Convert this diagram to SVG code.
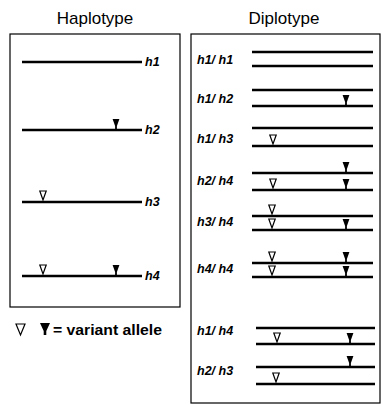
<svg xmlns="http://www.w3.org/2000/svg" width="382" height="405" viewBox="0 0 382 405">
<defs>
<style>
.box{fill:none;stroke:#000;stroke-width:1.2}
.ln{stroke:#000;stroke-width:2.3;fill:none}
.t{font-family:"Liberation Sans",Arial,sans-serif;font-size:17px;fill:#000}
.lb{font-family:"Liberation Sans",Arial,sans-serif;font-size:12.5px;font-weight:bold;font-style:italic;fill:#000}
.lg{font-family:"Liberation Sans",Arial,sans-serif;font-size:14px;font-weight:bold;fill:#000}
</style>
<path id="op" d="M-3.2,-10 L3.2,-10 L0,-1 Z" fill="#fff" stroke="#000" stroke-width="1.2"/>
<path id="fi" d="M-3.4,-10 L3.4,-10 L0.9,-3 L0.9,0 L-0.9,0 L-0.9,-3 Z" fill="#000"/>
</defs>
<rect width="382" height="405" fill="#fff"/>
<text class="t" x="95" y="24" text-anchor="middle">Haplotype</text>
<text class="t" x="284" y="24" text-anchor="middle">Diplotype</text>
<rect class="box" x="10" y="34" width="170" height="273"/>
<rect class="box" x="191" y="34" width="189" height="369"/>
<g id="haplotypes">
<g id="h1"><line class="ln" x1="22" y1="62" x2="142" y2="62"/><text class="lb" x="145" y="66">h1</text></g>
<g id="h2"><line class="ln" x1="22" y1="130" x2="142" y2="130"/><use href="#fi" x="116" y="129"/><text class="lb" x="145" y="134">h2</text></g>
<g id="h3"><line class="ln" x1="22" y1="202" x2="142" y2="202"/><use href="#op" x="43" y="201"/><text class="lb" x="145" y="206">h3</text></g>
<g id="h4"><line class="ln" x1="22" y1="276" x2="142" y2="276"/><use href="#op" x="43" y="275"/><use href="#fi" x="116" y="275"/><text class="lb" x="145" y="280">h4</text></g>
</g>
<g id="legend">
<path d="M16,324 L25,324 L20.5,335 Z" fill="#fff" stroke="#000" stroke-width="1.2"/>
<path d="M40,323 L50,323 L46.3,331 L46.3,335 L43.7,335 L43.7,331 Z" fill="#000"/>
<text class="lg" x="53" y="335" textLength="109" lengthAdjust="spacingAndGlyphs">= variant allele</text>
</g>
<g id="diplotypes">
<g id="d-h1h1"><text class="lb" x="197" y="64">h1/ h1</text><line class="ln" x1="252" y1="52" x2="373" y2="52"/><line class="ln" x1="252" y1="66" x2="373" y2="66"/></g>
<g id="d-h1h2"><text class="lb" x="197" y="103">h1/ h2</text><line class="ln" x1="252" y1="90" x2="373" y2="90"/><line class="ln" x1="252" y1="106" x2="373" y2="106"/><use href="#fi" x="346" y="105"/></g>
<g id="d-h1h3"><text class="lb" x="197" y="143">h1/ h3</text><line class="ln" x1="252" y1="128" x2="373" y2="128"/><line class="ln" x1="252" y1="146" x2="373" y2="146"/><use href="#op" x="273" y="145"/></g>
<g id="d-h2h4"><text class="lb" x="197" y="185">h2/ h4</text><line class="ln" x1="252" y1="173" x2="373" y2="173"/><use href="#fi" x="346" y="172"/><line class="ln" x1="252" y1="190" x2="373" y2="190"/><use href="#op" x="273" y="189"/><use href="#fi" x="346" y="189"/></g>
<g id="d-h3h4"><text class="lb" x="197" y="226">h3/ h4</text><line class="ln" x1="252" y1="216" x2="373" y2="216"/><use href="#op" x="272" y="215"/><line class="ln" x1="252" y1="230" x2="373" y2="230"/><use href="#op" x="272" y="229"/><use href="#fi" x="346" y="229"/></g>
<g id="d-h4h4"><text class="lb" x="197" y="273">h4/ h4</text><line class="ln" x1="252" y1="263" x2="373" y2="263"/><use href="#op" x="272" y="262"/><use href="#fi" x="346" y="262"/><line class="ln" x1="252" y1="277" x2="373" y2="277"/><use href="#op" x="272" y="276"/><use href="#fi" x="346" y="276"/></g>
<g id="d-h1h4"><text class="lb" x="197" y="335">h1/ h4</text><line class="ln" x1="256" y1="328" x2="375" y2="328"/><line class="ln" x1="256" y1="344" x2="375" y2="344"/><use href="#op" x="277" y="343"/><use href="#fi" x="350" y="343"/></g>
<g id="d-h2h3"><text class="lb" x="197" y="375">h2/ h3</text><line class="ln" x1="256" y1="367" x2="375" y2="367"/><use href="#fi" x="350" y="366"/><line class="ln" x1="256" y1="384" x2="375" y2="384"/><use href="#op" x="276" y="383"/></g>
</g>
</svg>
